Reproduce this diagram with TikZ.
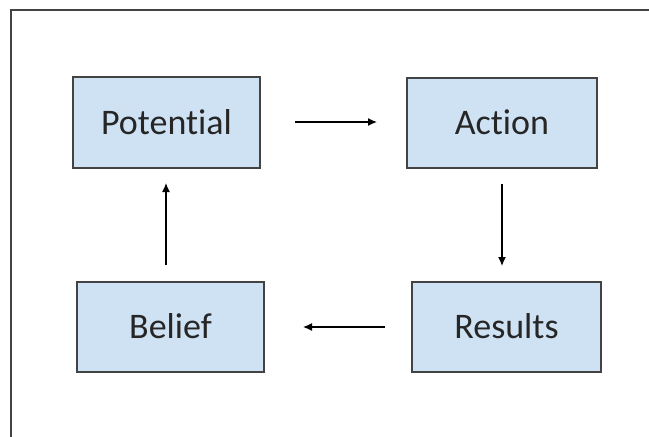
\documentclass[tikz,border=0pt]{standalone}
\usepackage{fontspec}
\setmainfont{Carlito}[Ligatures={NoCommon}]
\usetikzlibrary{arrows.meta}
\definecolor{boxfill}{HTML}{CFE2F3}
\definecolor{boxline}{HTML}{434343}
\begin{document}
\begin{tikzpicture}[x=1pt,y=-1pt,
  stage/.style={draw=boxline,line width=1.3pt,fill=boxfill,inner sep=0pt,
    font=\fontsize{36}{40}\selectfont,text=black!85},
  flow/.style={line width=1.3pt,-{Latex[length=9pt,width=8pt]}}]
\useasboundingbox (0,0) rectangle (649,437);
\draw[boxline,line width=1.5pt] (11,437) -- (11,10) -- (649,10);
\node[stage,minimum width=187pt,minimum height=91pt] (pot) at (166.5,122.5) {\raisebox{2pt}{Potential}};
\node[stage,minimum width=190pt,minimum height=90pt] (act) at (502,123) {\raisebox{2pt}{Action}};
\node[stage,minimum width=189pt,minimum height=90pt] (res) at (506.5,327) {\raisebox{2pt}{Results}};
\node[stage,minimum width=187pt,minimum height=90pt] (bel) at (170.5,327) {\raisebox{2pt}{Belief}};
\coordinate (a1) at (295,122);
\coordinate (a2) at (377,122);
\coordinate (b1) at (502,184);
\coordinate (b2) at (502,266);
\coordinate (c1) at (385,327);
\coordinate (c2) at (303,327);
\coordinate (d1) at (166,265);
\coordinate (d2) at (166,183);
\draw[flow] (a1) -- (a2);
\draw[flow] (b1) -- (b2);
\draw[flow] (c1) -- (c2);
\draw[flow] (d1) -- (d2);
\end{tikzpicture}
\end{document}
